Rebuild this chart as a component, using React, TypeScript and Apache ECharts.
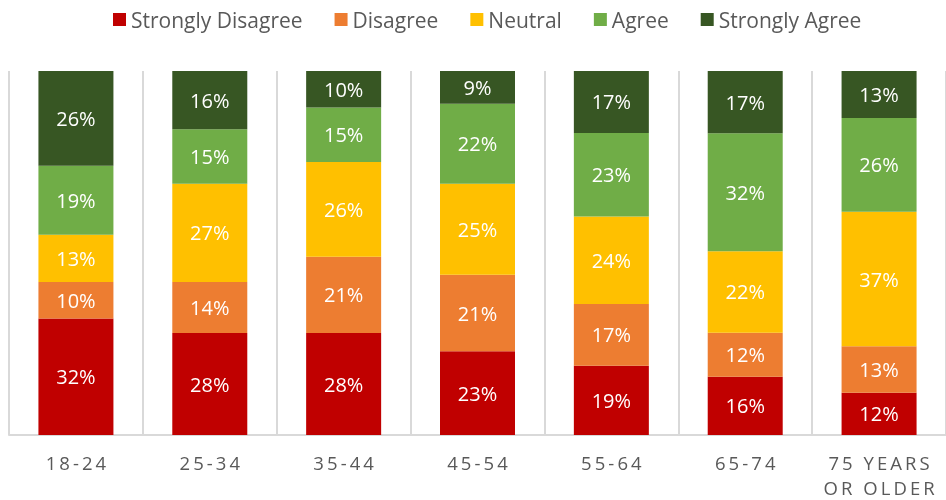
import React, { useEffect, useRef } from "react";
import * as echarts from "echarts";

const categories = ["18-24", "25-34", "35-44", "45-54", "55-64", "65-74", "75 YEARS\nOR OLDER"];
const seriesNames = ["Strongly Disagree", "Disagree", "Neutral", "Agree", "Strongly Agree"];
const stronglyDisagree = [32, 28, 28, 23, 19, 16.0, 11.6];
const disagree = [10, 14, 21, 21, 17, 12.1, 12.8];
const neutral = [13, 27, 26, 25, 24, 22.4, 36.9];
const agree = [19, 15, 15, 22, 23, 32.4, 25.8];
const stronglyAgree = [26, 16, 10, 9, 17, 17.1, 12.9];
const colors = ["#C00000", "#ED7D31", "#FFC000", "#70AD47", "#375623"];

const FONT = "'Open Sans', 'Noto Sans', sans-serif";

export default function App() {
  const ref = useRef<HTMLDivElement>(null);
  useEffect(() => {
    if (!ref.current) return;
    const chart = echarts.init(ref.current, undefined, { renderer: "svg" });
    const values = [stronglyDisagree, disagree, neutral, agree, stronglyAgree];
    chart.setOption({
      animation: false,
      legend: {
        top: 4,
        left: 108,
        itemWidth: 13,
        itemHeight: 13,
        itemGap: 32,
        icon: "rect",
        textStyle: { fontSize: 21, color: "#595959", fontFamily: FONT },
        data: seriesNames,
      },
      grid: { left: 9, right: -2, top: 71, bottom: 65 },
      xAxis: {
        type: "category",
        data: categories,
        axisLine: { show: true, lineStyle: { color: "#D9D9D9", width: 2 } },
        axisTick: { show: false },
        splitLine: { show: true, lineStyle: { color: "#D9D9D9", width: 2 } },
        axisLabel: {
          color: "#595959",
          fontSize: 18.5,
          fontFamily: FONT,
          margin: 15,
          lineHeight: 25,
          interval: 0,
          formatter: (v: string) =>
            v
              .split("\n")
              .map((line) => line.split("").join("\u2009"))
              .join("\n"),
        },
      },
      yAxis: { type: "value", min: 0, max: 100, show: false, splitLine: { show: false } },
      series: seriesNames.map((name, i) => ({
        name,
        type: "bar",
        stack: "total",
        barWidth: 75,
        data: values[i],
        itemStyle: { color: colors[i] },
        label: {
          show: true,
          position: "inside",
          color: "#FFFFFF",
          fontSize: 20,
          fontFamily: FONT,
          formatter: (p: any) => Math.round(p.value) + "%",
        },
      })),
    });
    return () => chart.dispose();
  }, []);
  return (
    <div
      ref={ref}
      style={{ position: "fixed", left: 0, top: 0, width: 946, height: 500 }}
    />
  );
}
